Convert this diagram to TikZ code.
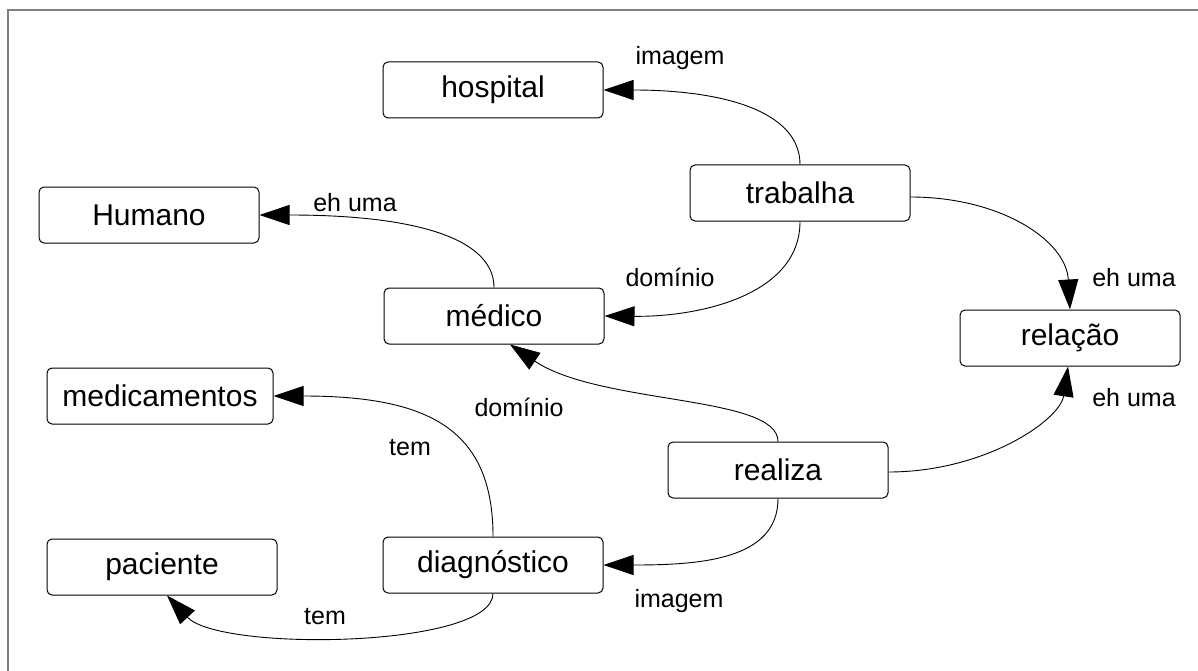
\documentclass[tikz,border=0pt]{standalone}
\usepackage{fontspec}
\setmainfont{Liberation Sans}
\usetikzlibrary{arrows.meta}
\begin{document}
\begin{tikzpicture}[x=1pt,y=-1pt,
  concept/.style={draw=black, line width=1pt, rounded corners=5pt,
    minimum width=220pt, minimum height=56pt, inner sep=0pt,
    font=\fontsize{30}{33}\selectfont},
  rel/.style={font=\fontsize{25}{28}\selectfont, inner sep=0pt},
  link/.style={draw=black, line width=0.9pt,
    -{Triangle[length=30pt,width=20pt]}},
  frameline/.style={draw=black!50, line width=2pt}]
\useasboundingbox (0,0) rectangle (1198,671);
% frame along the top and left edges
\draw[frameline] (8,671) -- (8,10) -- (1198,10);

% concepts
\node[concept] (hospital) at (493,90) {hospital};
\node[concept] (trabalha) at (800,193) {trabalha};
\node[concept] (humano) at (149,215) {Humano};
\node[concept] (medico) at (494,316) {médico};
\node[concept] (relacao) at (1070,338) {relação};
\node[concept, minimum width=226pt] (medicamentos) at (160,396) {medicamentos};
\node[concept] (realiza) at (778,470) {realiza};
\node[concept] (diagnostico) at (493,565) {diagnóstico};
\node[concept, minimum width=230pt] (paciente) at (162,567) {paciente};

% relation labels
\node[rel] (l1) at (680,58) {imagem};
\node[rel] (l2) at (355,203) {eh uma};
\node[rel] (l3) at (670,277) {domínio};
\node[rel] (l4) at (1134,278) {eh uma};
\node[rel] (l5) at (1134,398) {eh uma};
\node[rel] (l6) at (519,407) {domínio};
\node[rel] (l7) at (410,448) {tem};
\node[rel] (l8) at (679,601) {imagem};
\node[rel] (l9) at (325,617) {tem};

% connectors
\draw[link] (trabalha.north) .. controls (800,110) and (720,90) .. (hospital.east);
\draw[link] (trabalha.south) .. controls (800,295) and (700,317) .. (medico.east);
\draw[link] ([yshift=-4pt]trabalha.east) .. controls (1000,197) and (1066,240) .. (relacao.north);
\draw[link] (medico.north) .. controls (494,240) and (420,215) .. (humano.east);
\draw[link] (realiza.north) .. controls (778,395) and (600,405) .. ([xshift=16pt]medico.south);
\draw[link] (realiza.south) .. controls (778,560) and (700,565) .. (diagnostico.east);
\draw[link] ([yshift=-2pt]realiza.east) .. controls (985,472) and (1060,420) .. ([xshift=-2pt]relacao.south);
\draw[link] (diagnostico.north) .. controls (493,430) and (430,396) .. (medicamentos.east);
\draw[link] (diagnostico.south) .. controls (493,648) and (220,652) .. ([xshift=5pt]paciente.south);
\end{tikzpicture}
\end{document}
